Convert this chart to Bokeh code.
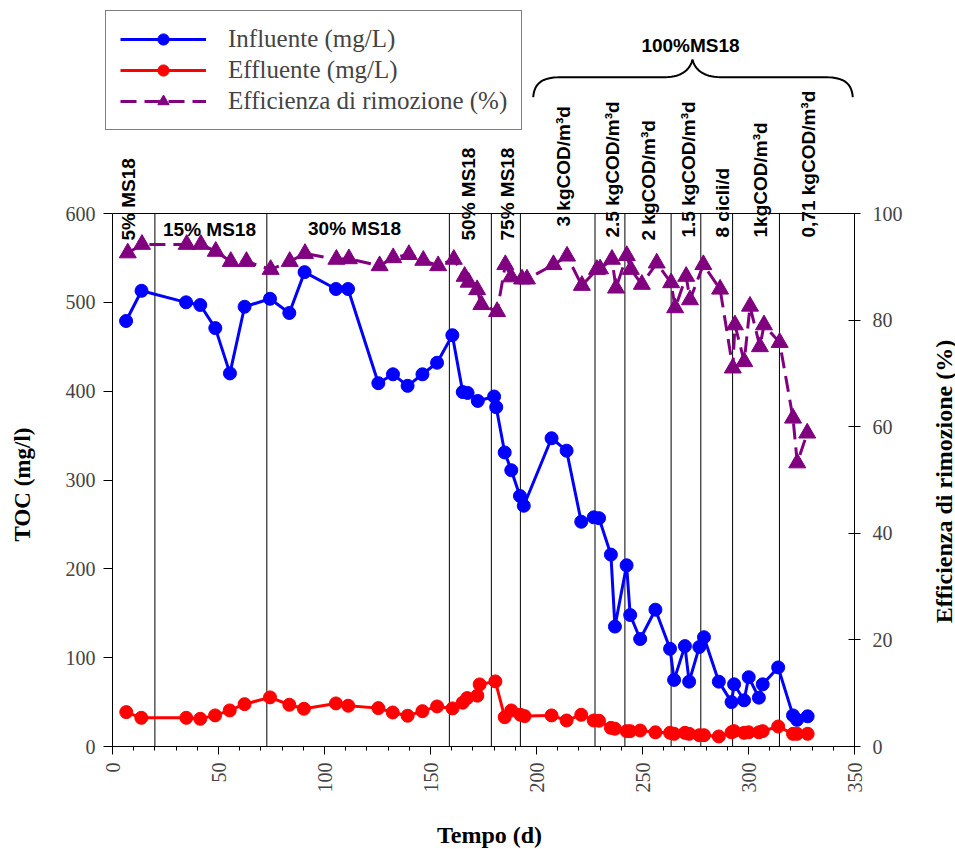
import math
from bokeh.plotting import figure
from bokeh.models import (Range1d, LinearAxis, SingleIntervalTicker, Label,
                          Legend, LegendItem, PolyAnnotation)
from bokeh.embed import file_html
from bokeh.resources import INLINE

# ---------------- data ----------------
giorni_inf = [6.4, 13.7, 34.7, 41.4, 48.5, 55.4, 62.3, 74.3, 83.4, 90.6, 105.4, 111.1,
              125.4, 132.3, 139.2, 146.2, 153.1, 160.3, 165.2, 167.5, 172.3, 180.0, 181.0,
              185.0, 188.1, 192.2, 194.0, 207.1, 214.2, 221.1, 227.0, 229.5, 235.1, 237.0,
              242.5, 244.2, 248.9, 256.1, 263.0, 264.9, 270.0, 272.0, 276.8, 279.0, 286.0,
              292.0, 293.2, 297.9, 300.1, 304.9, 306.7, 314.0, 321.0, 322.9, 327.9]
toc_inf = [479, 513, 500, 497, 471, 420, 495, 504, 488, 534, 515, 515,
           409, 419, 406, 419, 432, 463, 399, 398, 389, 394, 382,
           331, 311, 282, 271, 347, 333, 253, 258, 257, 216, 135,
           204, 148, 121, 154, 110, 75, 113, 73, 112, 123, 73,
           50, 70, 52, 78, 55, 70, 89, 35, 30, 34]

giorni_eff = [6.5, 13.6, 34.8, 41.4, 48.4, 55.3, 62.3, 74.3, 83.4, 90.3, 105.4, 111.2,
              125.4, 132.2, 139.2, 146.2, 153.1, 160.4, 165.2, 167.3, 172.1, 173.2, 180.6,
              185.0, 188.1, 192.4, 194.4, 207.1, 214.2, 221.1, 227.0, 229.5, 235.1, 237.0,
              242.5, 244.2, 248.9, 256.1, 263.0, 264.9, 270.0, 272.0, 276.8, 279.0, 286.0,
              292.0, 293.2, 297.9, 300.1, 304.9, 306.7, 314.0, 321.0, 322.9, 327.9]
toc_eff = [38.7, 32.3, 32.3, 31.2, 35.0, 40.6, 47.7, 55.3, 47.0, 42.5, 48.5, 45.9,
           43.2, 38.3, 34.6, 39.8, 45.1, 42.9, 49.3, 54.5, 57.2, 69.9, 73.3,
           33.0, 40.6, 35.7, 34.2, 35.0, 29.3, 35.7, 29.3, 29.0, 21.0, 20.0,
           17.3, 17.3, 18.0, 16.0, 15.4, 14.3, 15.4, 14.3, 12.7, 12.7, 11.3,
           16.0, 17.3, 15.4, 16.0, 16.0, 17.3, 22.5, 14.3, 14.3, 14.3]

giorni_rim = [7.2, 13.9, 35.0, 41.7, 48.7, 55.8, 63.2, 74.6, 83.6, 90.8, 105.6, 111.5,
              126.0, 132.4, 139.8, 146.6, 153.6, 161.0, 166.1, 168.0, 172.0, 174.0, 181.4,
              185.3, 188.0, 193.2, 195.5, 208.0, 214.4, 221.4, 228.5, 230.0, 235.6, 237.5,
              242.6, 244.5, 249.7, 256.7, 263.5, 265.4, 270.6, 272.4, 278.7, 286.6,
              292.6, 293.6, 298.0, 300.7, 305.4, 307.3, 314.7, 321.0, 323.0, 327.7]
rimozione = [92.6, 94.2, 94.2, 94.2, 92.9, 91.0, 91.0, 89.5, 91.0, 92.5, 91.4, 91.5,
             90.2, 91.7, 92.3, 91.2, 90.2, 91.4, 88.2, 87.1, 85.7, 82.9, 81.6,
             90.4, 88.1, 87.7, 87.7, 90.4, 92.0, 86.5, 89.5, 89.6, 91.4, 86.0,
             92.1, 89.5, 86.7, 90.7, 87.0, 82.3, 88.2, 83.8, 90.4, 85.8,
             71.0, 79.1, 72.2, 82.6, 75.0, 79.1, 75.8, 61.6, 53.2, 58.8]

# phase boundaries (days)
fasi = [20.0, 72.8, 158.9, 178.7, 192.4, 227.6, 241.7, 263.5, 277.5, 292.5, 314.6]

etichette_fasi_verticali = ["5% MS18", "50% MS18", "75% MS18", "3 kgCOD/m\u00b3d",
                            "2.5 kgCOD/m\u00b3d", "2 kgCOD/m\u00b3d", "1.5 kgCOD/m\u00b3d",
                            "8 cicli/d", "1kgCOD/m\u00b3d", "0,71 kgCOD/m\u00b3d"]
etichette_fasi_orizzontali = ["15% MS18", "30% MS18"]
etichetta_gruppo = "100%MS18"

TOC_MAX, EFF_MAX, DAY_MAX = 600, 100, 350

# ---------------- layout ----------------
W, H = 955, 849
FL, FR, FT, FB = 112, 854, 213, 746   # pixel edges of the data box
SERIF = "Liberation Serif"
SANS = "Liberation Sans"

# the plotting frame covers the whole canvas; axes are pinned to the data box
SX = (FR - FL) / DAY_MAX      # px per day
SY = (FB - FT) / TOC_MAX      # px per mg/l


def dx(px):
    return (px - FL) / SX


def dy(py):
    return (FB - py) / SY


x_rng = Range1d(dx(0), dx(W))
y_rng = Range1d(dy(H), dy(0))
e_rng = Range1d(dy(H) * EFF_MAX / TOC_MAX, dy(0) * EFF_MAX / TOC_MAX)

p = figure(width=W, height=H, output_backend="svg", toolbar_location=None,
           x_range=x_rng, y_range=y_rng, x_axis_type=None, y_axis_type=None,
           min_border=0)
p.extra_y_ranges = {"eff": e_rng}
p.xgrid.visible = False
p.ygrid.visible = False
p.outline_line_color = None
p.background_fill_color = "white"
p.border_fill_color = "white"

# x axis
xa = LinearAxis(fixed_location=0, bounds=(0, DAY_MAX),
                ticker=SingleIntervalTicker(interval=50, num_minor_ticks=5))
xa.major_label_orientation = math.pi / 2
xa.major_label_text_font = SERIF
xa.major_label_text_font_size = "20px"
xa.major_label_standoff = 8
xa.major_tick_in = 0
xa.major_tick_out = 8
xa.minor_tick_in = 0
xa.minor_tick_out = 4
xa.axis_line_color = "black"
xa.major_tick_line_color = "black"
xa.minor_tick_line_color = "black"
p.add_layout(xa, "below")

# left y axis
ya = LinearAxis(fixed_location=0, bounds=(0, TOC_MAX),
                ticker=SingleIntervalTicker(interval=100))
ya.major_label_text_font = SERIF
ya.major_label_text_font_size = "20px"
ya.major_label_standoff = 8
ya.major_tick_in = 0
ya.major_tick_out = 9
ya.minor_tick_line_color = None
ya.axis_line_color = "black"
ya.major_tick_line_color = "black"
p.add_layout(ya, "left")

# right y axis
yr = LinearAxis(y_range_name="eff", fixed_location=DAY_MAX, bounds=(0, EFF_MAX),
                ticker=SingleIntervalTicker(interval=20))
yr.major_label_text_font = SERIF
yr.major_label_text_font_size = "20px"
yr.major_label_standoff = 12
yr.major_tick_in = 6
yr.major_tick_out = 6
yr.minor_tick_line_color = None
yr.axis_line_color = "black"
yr.major_tick_line_color = "black"
p.add_layout(yr, "right")

# axis titles
p.add_layout(Label(x=dx(489), y=dy(834), text="Tempo (d)", text_align="center",
                   text_baseline="middle", text_font=SERIF, text_font_style="bold",
                   text_font_size="24px", text_color="black"))
p.add_layout(Label(x=dx(22), y=dy(484), text="TOC (mg/l)", angle=math.pi / 2,
                   text_align="center", text_baseline="middle", text_font=SERIF,
                   text_font_style="bold", text_font_size="23px", text_color="black"))
p.add_layout(Label(x=dx(943), y=dy(481), text="Efficienza di rimozione (%)",
                   angle=math.pi / 2, text_align="center", text_baseline="middle",
                   text_font=SERIF, text_font_style="bold", text_font_size="24px",
                   text_color="black"))

# top border of the data box and phase lines
p.segment(x0=[0], y0=[TOC_MAX], x1=[DAY_MAX], y1=[TOC_MAX], line_color="black", line_width=1)
p.segment(x0=fasi, y0=[0] * len(fasi), x1=fasi, y1=[TOC_MAX] * len(fasi),
          line_color="black", line_width=1)

# series
BLUE, RED, PURPLE = "#0000FF", "#FF0000", "#800080"
r_inf_l = p.line(giorni_inf, toc_inf, line_color=BLUE, line_width=3)
r_inf_p = p.scatter(giorni_inf, toc_inf, size=13, fill_color=BLUE, line_color=BLUE)
r_eff_l = p.line(giorni_eff, toc_eff, line_color=RED, line_width=3)
r_eff_p = p.scatter(giorni_eff, toc_eff, size=13, fill_color=RED, line_color=RED)
r_rim_l = p.line(giorni_rim, rimozione, y_range_name="eff", line_color=PURPLE,
                 line_width=3, line_dash="16 8")
r_rim_p = p.scatter(giorni_rim, rimozione, y_range_name="eff", marker="triangle",
                    size=17, fill_color=PURPLE, line_color=PURPLE)

LEG_H = 120
legend = Legend(items=[
    LegendItem(label="Influente (mg/L)", renderers=[r_inf_l, r_inf_p]),
    LegendItem(label="Effluente (mg/L)", renderers=[r_eff_l, r_eff_p]),
    LegendItem(label="Efficienza di rimozione (%)", renderers=[r_rim_l, r_rim_p]),
], location=(105, H - 10 - LEG_H))
legend.label_text_font = SERIF
legend.label_text_font_size = "25px"
legend.glyph_width = 86
legend.glyph_height = 28
legend.label_height = 28
legend.spacing = 3
legend.padding = 14
legend.label_standoff = 22
legend.margin = 0
legend.border_line_color = "black"
legend.border_line_width = 1
legend.background_fill_color = "white"
legend.background_fill_alpha = 1.0
p.add_layout(legend)

# phase labels
vert_pos = [(128, 240), (467.5, 240), (506.7, 240), (563, 226), (611.7, 237),
            (648, 240), (688, 237), (721.7, 237), (760, 237), (808, 237)]
for txt, (px, py) in zip(etichette_fasi_verticali, vert_pos):
    p.add_layout(Label(x=dx(px), y=dy(py), text=txt, angle=math.pi / 2,
                       text_align="left", text_baseline="middle",
                       text_font=SANS, text_font_style="bold", text_font_size="19px",
                       text_color="black"))
hor_pos = [(209, 229), (354, 227.5)]
for txt, (px, py) in zip(etichette_fasi_orizzontali, hor_pos):
    p.add_layout(Label(x=dx(px), y=dy(py), text=txt, text_align="center",
                       text_baseline="middle", text_font=SANS, text_font_style="bold",
                       text_font_size="19px", text_color="black"))
p.add_layout(Label(x=dx(690), y=dy(45), text=etichetta_gruppo, text_align="center",
                   text_baseline="middle", text_font=SANS, text_font_style="bold",
                   text_font_size="19px", text_color="black"))


# brace above the 100% MS18 phases (pixel geometry -> data units)
def cubic(p0, p1, p2, p3, n=16):
    pts = []
    for i in range(n + 1):
        t = i / n
        a = (1 - t) ** 3
        b = 3 * (1 - t) ** 2 * t
        c = 3 * (1 - t) * t ** 2
        d = t ** 3
        pts.append((a * p0[0] + b * p1[0] + c * p2[0] + d * p3[0],
                    a * p0[1] + b * p1[1] + c * p2[1] + d * p3[1]))
    return pts


yb = 76.7
path = []
path += cubic((532.7, 96.7), (534, 80), (545, yb), (562, yb))
path += [(665, yb)]
path += cubic((665, yb), (682, yb), (690, 68), (692, 59))
path += cubic((692, 59), (694, 68), (702, yb), (720, yb))
path += [(823, yb)]
path += cubic((823, yb), (840, yb), (851, 80), (852.3, 96.7))
full = path + path[::-1]
p.add_layout(PolyAnnotation(xs=[dx(a) for a, _ in full], ys=[dy(b) for _, b in full],
                            xs_units="data", ys_units="data",
                            fill_color=None, fill_alpha=0, line_color="black",
                            line_alpha=1.0, line_width=2))

open("out.html", "w").write(file_html(p, INLINE))
